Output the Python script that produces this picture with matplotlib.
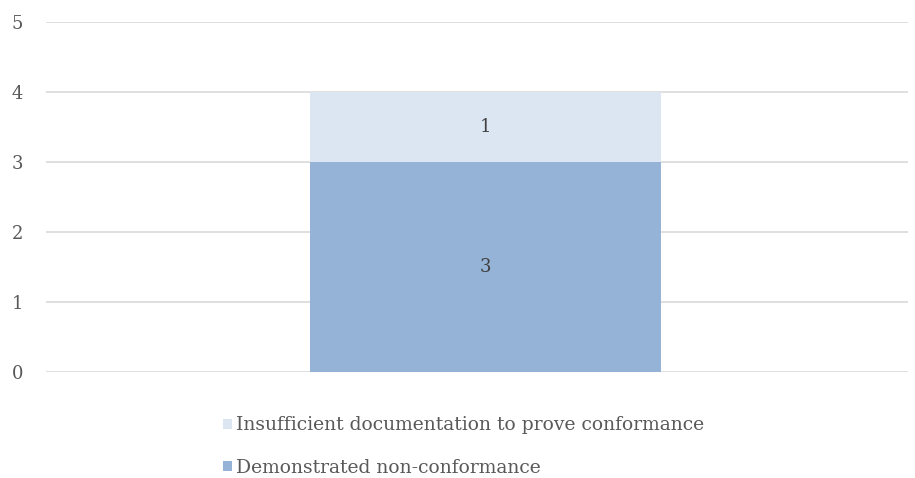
import matplotlib.pyplot as plt

categories = ['']
demonstrated = [3]
insufficient = [1]
series_names = ['Demonstrated non-conformance',
                'Insufficient documentation to prove conformance']
yticks = [0, 1, 2, 3, 4, 5]

plt.rcParams['font.family'] = ['DejaVu Serif']

fig = plt.figure(figsize=(9.15, 4.78), dpi=100)
ax = fig.add_axes([46 / 915, 1 - 372 / 478, 862 / 915, 350 / 478])

x = [0.51]
b1 = ax.bar(x, demonstrated, width=0.408, color='#95B3D7', zorder=2,
            label=series_names[0])
b2 = ax.bar(x, insufficient, width=0.408, bottom=demonstrated,
            color='#DCE6F2', zorder=2, label=series_names[1])

for bars, vals, bottoms in [(b1, demonstrated, [0]), (b2, insufficient, demonstrated)]:
    for bar, v, b in zip(bars, vals, bottoms):
        ax.text(bar.get_x() + bar.get_width() / 2, b + v / 2, str(v),
                ha='center', va='center', fontsize=13, color='#404040')

ax.set_xlim(0, 1)
ax.set_ylim(0, 5)
ax.set_yticks(yticks)
ax.set_xticks([])
ax.yaxis.grid(True, color='#D9D9D9', linewidth=1.2, zorder=0)
ax.tick_params(axis='y', length=0, pad=24.5, labelsize=13, labelcolor='#595959')
for t in ax.get_yticklabels():
    t.set_horizontalalignment('left')
for s in ax.spines.values():
    s.set_visible(False)

handles = [b2, b1]
leg = fig.legend(handles, [series_names[1], series_names[0]],
                 loc='upper left', bbox_to_anchor=(214 / 915, 1 - 407 / 478),
                 frameon=False, fontsize=13.5, labelcolor='#595959',
                 handlelength=0.45, handleheight=0.45, handletextpad=0.25,
                 labelspacing=1.3, borderpad=0)

fig.savefig('out.png', dpi=100)
